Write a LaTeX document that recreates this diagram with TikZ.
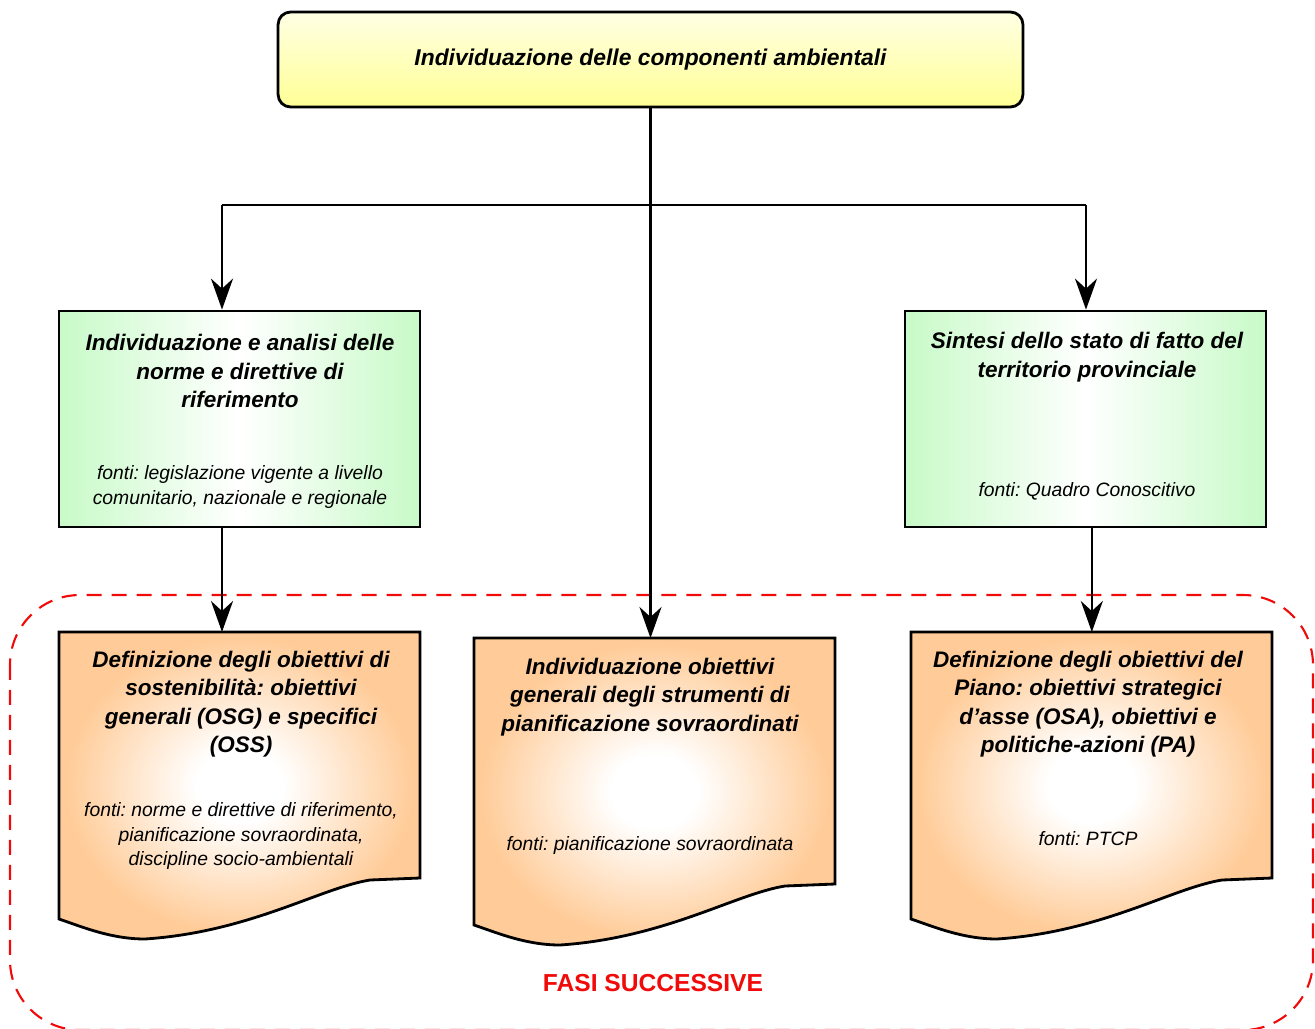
\documentclass[tikz,border=0pt]{standalone}
\usepackage{fontspec}
\setmainfont{Liberation Sans}
\usetikzlibrary{arrows.meta,positioning}
\frenchspacing
\definecolor{boxyellow}{RGB}{255,255,150}
\definecolor{paleyellow}{RGB}{255,255,228}
\definecolor{boxgreen}{RGB}{200,250,200}
\definecolor{boxorange}{RGB}{255,204,153}
\definecolor{fasired}{RGB}{240,10,10}
\pgfdeclareradialshading{docshade}{\pgfpoint{0bp}{0bp}}{color(0bp)=(white); color(6bp)=(white); color(24bp)=(boxorange); color(50bp)=(boxorange)}
\newcommand{\docoutline}{(0,0) -- (361,0) -- (361,246) -- (311,248) .. controls (261,256) and (191,300) .. (86,307) .. controls (51,307) and (21,294) .. (0,287) -- cycle}
\tikzset{
  topbox/.style={draw, line width=1.6pt, rounded corners=0.25cm, top color=paleyellow, bottom color=boxyellow, minimum width=14.9cm, minimum height=1.9cm, font=\bfseries\itshape\fontsize{13}{15}\selectfont},
  greenbox/.style={draw, line width=1.6pt, left color=boxgreen, right color=boxgreen, middle color=white, minimum width=7.22cm, minimum height=4.32cm},
  docarea/.style={minimum width=7.22cm, minimum height=6.14cm, inner sep=0pt, anchor=north west},
  docfill/.style={draw, line width=1.6pt, shading=docshade},
  headtxt/.style={align=center, inner sep=0pt, font=\bfseries\itshape\fontsize{12.8}{16.2}\selectfont},
  srctxt/.style={align=center, inner sep=0pt, font=\itshape\fontsize{11}{13.7}\selectfont},
  link/.style={line width=1.4pt},
  arr/.style={link, -{Stealth[length=0.62cm, width=0.44cm, inset=0.2cm]}},
  fasiframe/.style={draw=fasired, line width=1.2pt, dash pattern=on 0.3cm off 0.2cm, rounded corners=1.4cm},
}
\begin{document}
\begin{tikzpicture}[x=0.02cm, y=-0.02cm]
\useasboundingbox (0,0) rectangle (1315,1028);

% fasi successive
\draw[fasiframe] (10,595) rectangle (1313,1030);
\node[text=fasired, font=\bfseries\fontsize{14}{16}\selectfont] (fasi) at (653,983) {FASI SUCCESSIVE};

% boxes
\node[topbox] (comp) at (650.5,59.5) {Individuazione delle componenti ambientali};
\node[greenbox] (norme) at (239.5,419) {};
\node[greenbox] (sintesi) at (1085.5,419) {};
\node[docarea] (sost) at (59,632) {};
\node[docarea] (sovr) at (474,638) {};
\node[docarea] (piano) at (911,632) {};
\begin{scope}[shift={(sost.north west)}]
\path[docfill] \docoutline;
\end{scope}
\begin{scope}[shift={(sovr.north west)}]
\path[docfill] \docoutline;
\end{scope}
\begin{scope}[shift={(piano.north west)}]
\path[docfill] \docoutline;
\end{scope}

% texts
\node[headtxt] (normeT) at (240,371) {Individuazione e analisi delle\\norme e direttive di\\riferimento};
\node[srctxt] (normeF) at (240,487) {fonti: legislazione vigente a livello\\comunitario, nazionale e regionale};
\node[headtxt] (sintesiT) at (1087,357) {Sintesi dello stato di fatto del\\territorio provinciale};
\node[srctxt] (sintesiF) at (1087,491) {fonti: Quadro Conoscitivo};
\node[headtxt] (sostT) at (241,704) {Definizione degli obiettivi di\\sostenibilità: obiettivi\\generali (OSG) e specifici\\(OSS)};
\node[srctxt] (sostF) at (241,836) {fonti: norme e direttive di riferimento,\\pianificazione sovraordinata,\\discipline socio-ambientali};
\node[headtxt] (sovrT) at (650,697) {Individuazione obiettivi\\generali degli strumenti di\\pianificazione sovraordinati};
\node[srctxt] (sovrF) at (650,845) {fonti: pianificazione sovraordinata};
\node[headtxt] (pianoT) at (1088,704) {Definizione degli obiettivi del\\Piano: obiettivi strategici\\d’asse (OSA), obiettivi e\\politiche-azioni (PA)};
\node[srctxt] (pianoF) at (1088,839) {fonti: PTCP};

% connectors
\coordinate (splitL) at (222,205);
\coordinate (splitR) at (1086,205);
\draw[link] (splitL) -- (splitR);
\draw[arr] (comp.south) -- (comp.south |- sovr.north);
\draw[arr] (splitL) -- (splitL |- norme.north);
\draw[arr] (splitR) -- (splitR |- sintesi.north);
\draw[arr] (splitL |- norme.south) -- (splitL |- sost.north);
\draw[arr] (piano.north |- sintesi.south) -- (piano.north);
\end{tikzpicture}
\end{document}
